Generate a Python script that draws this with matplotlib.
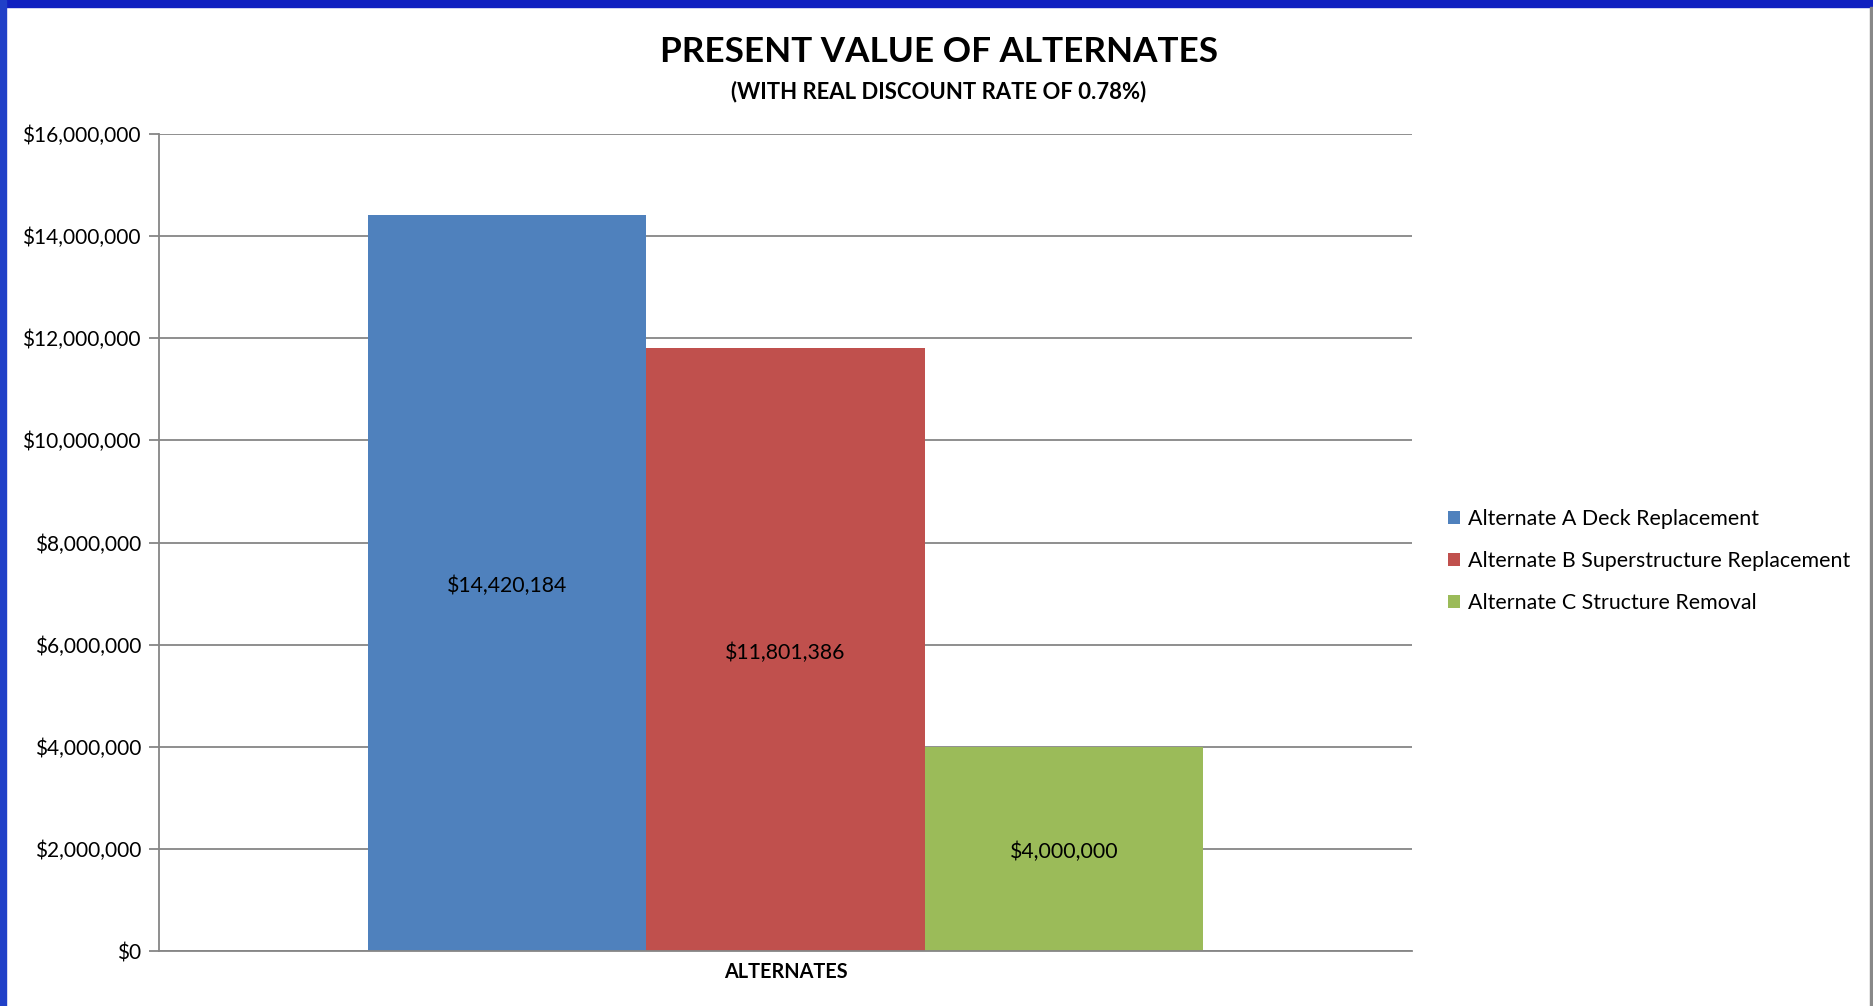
import matplotlib.pyplot as plt
from matplotlib.patches import Rectangle
from matplotlib.ticker import FuncFormatter
import numpy as np

series = ['Alternate A Deck Replacement',
          'Alternate B Superstructure Replacement',
          'Alternate C Structure Removal']
values = [14420184, 11801386, 4000000]
colors = ['#4F81BD', '#C0504D', '#9BBB59']
category = 'ALTERNATES'

plt.rcParams['font.family'] = ['Lato', 'DejaVu Sans']

W, H = 1873, 1006
fig = plt.figure(figsize=(W / 100, H / 100), dpi=100)
fig.patch.set_facecolor('white')

# blue slide frame round the chart
fig.patches.append(Rectangle((0, 1 - 7 / H), 1, 7 / H, transform=fig.transFigure,
                             color='#1020C0', zorder=0))
fig.patches.append(Rectangle((0, 0), 6 / W, 1, transform=fig.transFigure,
                             color='#2040C8', zorder=0))
fig.patches.append(Rectangle((1 - 3 / W, 0), 3 / W, 1 - 7 / H, transform=fig.transFigure,
                             color='#888888', zorder=0))

ax = fig.add_axes([159 / W, 1 - 951 / H, (1412 - 159) / W, (951 - 134) / H])

width = 1 / 4.5
start = 0.5 - 1.5 * width
for i, (name, v, c) in enumerate(zip(series, values, colors)):
    x = start + (i + 0.5) * width
    ax.bar(x, v, width=width, color=c, label=name, zorder=2)
    ax.annotate('${:,.0f}'.format(v), (x, v / 2), xytext=(0, -2),
                textcoords='offset points', ha='center', va='center',
                fontsize=15.3, color='black', zorder=3)

ax.set_xlim(0, 1)
ax.set_ylim(0, 16000000)
ax.set_yticks(np.arange(0, 16000001, 2000000))
ax.yaxis.set_major_formatter(FuncFormatter(lambda v, p: '${:,.0f}'.format(v)))
ax.set_xticks([0.5])
ax.set_xticklabels([category], fontsize=14.3, fontweight='bold')
ax.tick_params(axis='x', length=0, pad=8)
ax.tick_params(axis='y', length=7, width=1.3, color='#868686', labelsize=15, pad=6)
ax.grid(axis='y', color='#868686', linewidth=1.3, zorder=1)
for s in ['top', 'right']:
    ax.spines[s].set_visible(False)
for s in ['left', 'bottom']:
    ax.spines[s].set_color('#868686')
    ax.spines[s].set_linewidth(1.3)

fig.text(939 / W, 1 - 52 / H, 'PRESENT VALUE OF ALTERNATES', ha='center', va='center',
         fontsize=25.3, fontweight='bold')
fig.text(939 / W, 1 - 92 / H, '(WITH REAL DISCOUNT RATE OF 0.78%)', ha='center',
         va='center', fontsize=15.9, fontweight='bold')

fig.legend(loc='center left', bbox_to_anchor=(1429 / W, 1 - 561 / H), frameon=False,
           fontsize=15.4, handlelength=0.55, handleheight=0.55, handletextpad=0.35,
           labelspacing=1.03)

fig.savefig('out.png', dpi=100)
